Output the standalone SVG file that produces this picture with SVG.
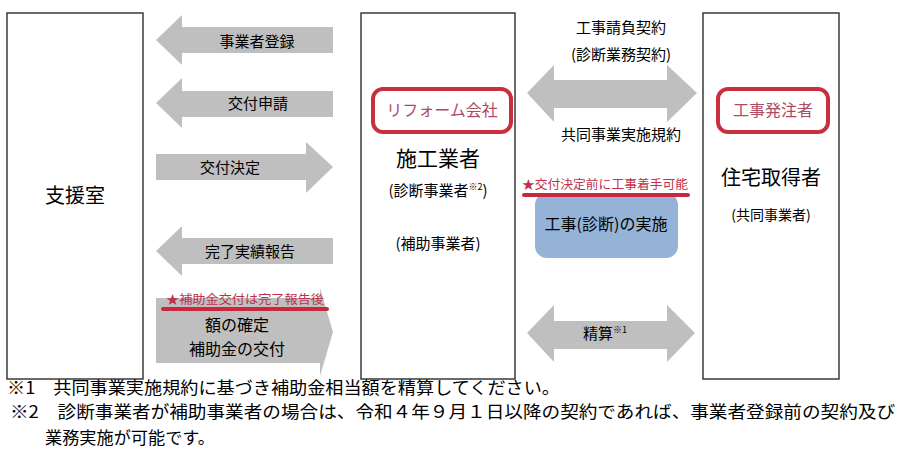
<svg xmlns="http://www.w3.org/2000/svg" width="901" height="454" viewBox="0 0 901 454">
<style>
text{font-family:"Noto Sans CJK JP","Noto Sans",sans-serif;fill:#000}
.box{fill:#fff;stroke:#3a3a3a;stroke-width:1.5}
.arr{fill:#bfbfbf}
.rbox{fill:#fff;stroke:#c8303f;stroke-width:4}
.rtxt{fill:#b04a63;font-size:16px}
.star{fill:#c0304a;font-size:12.5px}
.uline{stroke:#c8283c;stroke-width:4;stroke-linecap:round}
.lbl{font-size:15px;text-anchor:middle}
.note{font-size:17px}
</style>
<rect width="901" height="454" fill="#fff"/>
<g id="shienshitsu">
<rect class="box" x="7" y="13" width="136" height="366"/>
<text x="75" y="203" font-size="20" text-anchor="middle">支援室</text>
</g>
<g id="sekougyousha">
<rect class="box" x="361" y="13" width="154" height="366"/>
<rect class="rbox" x="373" y="89" width="138" height="43" rx="10"/>
<text class="rtxt" x="442" y="116" text-anchor="middle">リフォーム会社</text>
<text x="438" y="166" font-size="21" text-anchor="middle">施工業者</text>
<text x="438" y="196" font-size="15" text-anchor="middle">(診断事業者<tspan font-size="9" dy="-6">※2</tspan><tspan dy="6">)</tspan></text>
<text x="438" y="249" font-size="15" text-anchor="middle">(補助事業者)</text>
</g>
<g id="juutakushutokusha">
<rect class="box" x="703" y="13" width="136" height="366"/>
<rect class="rbox" x="718" y="89" width="110" height="43" rx="10"/>
<text class="rtxt" x="773" y="116" text-anchor="middle">工事発注者</text>
<text x="771" y="185" font-size="20" text-anchor="middle">住宅取得者</text>
<text x="771" y="220" font-size="14" text-anchor="middle">(共同事業者)</text>
</g>
<g id="sekou">
<rect x="535" y="193" width="143" height="65" rx="12" fill="#95b3d7"/>
<line class="uline" x1="524" y1="195" x2="688" y2="195"/>
<text class="star" x="522" y="189" textLength="166" lengthAdjust="spacingAndGlyphs">★交付決定前に工事着手可能</text>
<text x="606" y="230" font-size="16" text-anchor="middle">工事(診断)の実施</text>
</g>
<g id="connectors">
<polygon class="arr" points="156,40 182,15 182,27 333,27 333,53 182,53 182,65"/>
<text class="lbl" x="257" y="47">事業者登録</text>
<polygon class="arr" points="156,103 182,78 182,91 333,91 333,117 182,117 182,128"/>
<text class="lbl" x="258" y="109">交付申請</text>
<polygon class="arr" points="156,154 306,154 306,142 333,167 306,193 306,180 156,180"/>
<text class="lbl" x="230" y="173">交付決定</text>
<polygon class="arr" points="156,251 182,226 182,238 333,238 333,264 182,264 182,276"/>
<text class="lbl" x="250" y="257">完了実績報告</text>
<polygon class="arr" points="156,298 320,298 320,288 333,332 320,376 320,363 156,363"/>
<line class="uline" x1="163" y1="309" x2="327" y2="309"/>
<text class="star" x="166" y="304" textLength="158" lengthAdjust="spacingAndGlyphs">★補助金交付は完了報告後</text>
<text x="237" y="331" font-size="16" text-anchor="middle">額の確定</text>
<text x="237" y="355" font-size="16" text-anchor="middle">補助金の交付</text>
<polygon class="arr" points="527,93 554,65 554,80 667,80 667,65 697,93 667,122 667,108 554,108 554,122"/>
<text class="lbl" x="621" y="33">工事請負契約</text>
<text class="lbl" x="621" y="60">(診断業務契約)</text>
<text class="lbl" x="621" y="140">共同事業実施規約</text>
<polygon class="arr" points="527,333 554,305 554,321 667,321 667,305 695,333 667,362 667,349 554,349 554,362"/>
<text x="605" y="339" font-size="15" text-anchor="middle">精算<tspan font-size="9" dy="-6">※1</tspan></text>
</g>
<g id="notes">
<text class="note" x="7" y="394" textLength="553" lengthAdjust="spacingAndGlyphs">※1　共同事業実施規約に基づき補助金相当額を精算してください。</text>
<text class="note" x="10" y="418" textLength="885" lengthAdjust="spacingAndGlyphs">※2　診断事業者が補助事業者の場合は、令和４年９月１日以降の契約であれば、事業者登録前の契約及び</text>
<text class="note" x="45" y="444" textLength="170" lengthAdjust="spacingAndGlyphs">業務実施が可能です。</text>
</g>
</svg>
